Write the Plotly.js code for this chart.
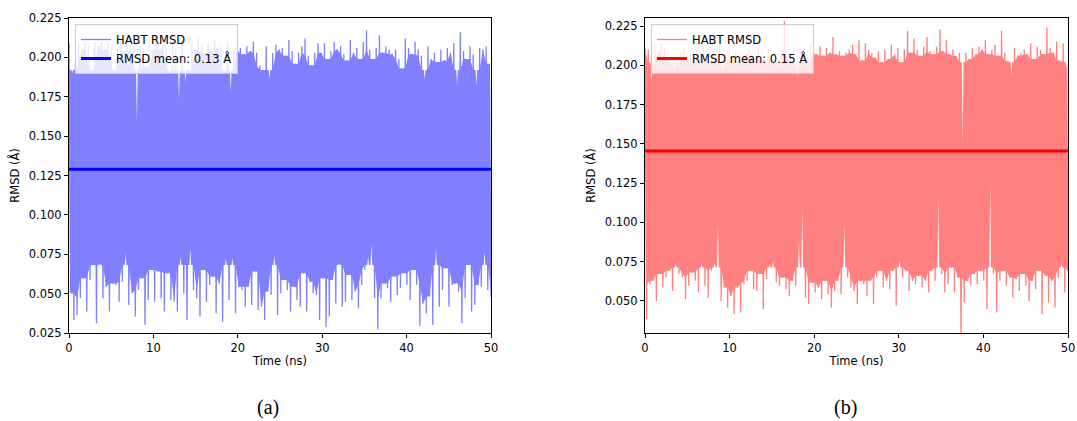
<!DOCTYPE html>
<html><head><meta charset="utf-8">
<script src="https://cdn.plot.ly/plotly-3.0.1.min.js"></script>
<style>html,body{margin:0;padding:0;background:#fff}#chart{width:1077px;height:421px}</style>
</head><body><div id="chart"></div>
<script>
// Time span of both trajectories (ns)
const timeSpanNs = [0, 50];

// Panel (a): upper and lower excursions of the HABT RMSD trace (Å), read left to right
const peaksA = [0.209,0.190,0.197,0.209,0.205,0.210,0.208,0.191,0.210,0.207,0.210,0.205,0.209,0.207,0.192,0.206,0.211,0.204,0.208,0.205,
0.207,0.158,0.209,0.206,0.194,0.209,0.205,0.213,0.205,0.208,0.211,0.190,0.207,0.205,0.173,0.210,0.184,0.192,0.209,0.205,
0.212,0.208,0.203,0.209,0.205,0.211,0.206,0.207,0.191,0.210,0.178,0.205,0.209,0.206,0.202,0.207,0.204,0.210,0.203,0.195,
0.192,0.207,0.186,0.203,0.208,0.205,0.206,0.201,0.211,0.204,0.196,0.203,0.207,0.212,0.201,0.195,0.203,0.209,0.203,0.209,
0.199,0.204,0.210,0.205,0.207,0.202,0.198,0.211,0.203,0.206,0.199,0.210,0.217,0.205,0.199,0.206,0.214,0.203,0.207,0.205,
0.202,0.205,0.199,0.193,0.212,0.206,0.202,0.210,0.205,0.201,0.186,0.207,0.199,0.203,0.197,0.205,0.198,0.206,0.203,0.209,
0.182,0.216,0.204,0.199,0.207,0.202,0.182,0.206,0.205,0.207,0.196];
const troughsA = [0.0502,0.0333,0.0364,0.0470,0.0597,0.0386,0.0587,0.0682,0.0312,0.0692,0.0470,
0.0544,0.0386,0.0565,0.0555,0.0449,0.0576,0.0756,0.0428,0.0502,0.0354,0.0523,
0.0597,0.0301,0.0460,0.0650,0.0449,0.0640,0.0470,0.0386,0.0629,0.0460,0.0449,
0.0386,0.0735,0.0502,0.0333,0.0788,0.0523,0.0470,0.0354,0.0650,0.0449,0.0555,
0.0608,0.0375,0.0565,0.0322,0.0724,0.0460,0.0724,0.0375,0.0544,0.0523,0.0417,
0.0544,0.0428,0.0640,0.0396,0.0417,0.0333,0.0513,0.0491,0.0745,0.0364,0.0502,
0.0587,0.0523,0.0386,0.0544,0.0460,0.0417,0.0629,0.0386,0.0576,0.0502,0.0491,
0.0333,0.0597,0.0286,0.0354,0.0587,0.0438,0.0692,0.0417,0.0449,0.0618,0.0460,
0.0513,0.0407,0.0555,0.0650,0.0735,0.0819,0.0470,0.0273,0.0470,0.0565,0.0534,
0.0449,0.0608,0.0491,0.0534,0.0629,0.0555,0.0460,0.0650,0.0555,0.0295,0.0438,
0.0375,0.0481,0.0301,0.0788,0.0417,0.0523,0.0661,0.0417,0.0555,0.0565,0.0513,
0.0312,0.0470,0.0682,0.0386,0.0428,0.0555,0.0544,0.0766,0.0523,0.0480];

// Panel (b)
const peaksB = [0.211,0.210,0.189,0.214,0.209,0.214,0.211,0.204,0.201,0.196,0.201,0.208,0.212,0.204,0.208,0.202,0.210,0.207,0.212,0.204,
0.202,0.208,0.206,0.213,0.196,0.208,0.212,0.204,0.209,0.203,0.207,0.207,0.210,0.208,0.202,0.212,0.207,0.204,0.210,0.206,
0.203,0.201,0.212,0.228,0.208,0.204,0.211,0.192,0.210,0.207,0.204,0.214,0.209,0.207,0.212,0.206,0.211,0.208,0.218,0.207,
0.209,0.206,0.208,0.210,0.213,0.207,0.216,0.203,0.214,0.210,0.208,0.205,0.209,0.202,0.210,0.204,0.213,0.207,0.211,0.202,
0.210,0.222,0.208,0.217,0.210,0.206,0.212,0.218,0.209,0.207,0.212,0.223,0.209,0.216,0.207,0.210,0.206,0.208,0.150,0.208,
0.204,0.211,0.207,0.212,0.210,0.216,0.207,0.210,0.213,0.206,0.222,0.208,0.203,0.194,0.211,0.206,0.208,0.210,0.207,0.214,
0.204,0.212,0.210,0.207,0.224,0.211,0.208,0.215,0.203,0.214,0.198];
const troughsB = [0.0383,0.0607,0.0628,0.0500,0.0671,0.0585,0.0649,0.0692,0.0564,0.0734,0.0671,0.0649,0.0511,0.0596,0.0681,0.0628,0.0553,0.0734,0.0596,0.0521,
0.0692,0.0745,0.099,0.0500,0.0585,0.0458,0.0532,0.0415,0.0585,0.0426,0.0607,0.0628,0.0692,0.0575,0.0564,0.0671,0.0447,0.0639,0.0734,0.0756,
0.0617,0.0596,0.0649,0.0575,0.0532,0.0628,0.0596,0.0884,0.109,0.0521,0.0479,0.0617,0.0553,0.0585,0.0511,0.0628,0.0543,0.0458,0.0564,0.0628,
0.0543,0.100,0.0649,0.0585,0.0564,0.0479,0.0628,0.0607,0.0532,0.0628,0.0479,0.0649,0.0692,0.0585,0.0628,0.0575,0.0692,0.0468,0.0756,0.0649,
0.0692,0.0564,0.0628,0.0607,0.0660,0.0585,0.0628,0.0553,0.0692,0.0628,0.116,0.0671,0.0553,0.0607,0.0713,0.0553,0.0649,0.0290,0.0490,0.0628,
0.0596,0.0671,0.0607,0.0692,0.0628,0.0447,0.125,0.0671,0.0426,0.0628,0.0692,0.0596,0.0649,0.0521,0.0639,0.0564,0.0671,0.0596,0.0500,0.0628,
0.0575,0.0692,0.0415,0.0660,0.0490,0.0628,0.0458,0.0649,0.0734,0.0553,0.0690];

const meanA = 0.129;
const meanB = 0.1455;
const seriesName = 'HABT RMSD';
const meanLabelA = 'RMSD mean: 0.13 Å';
const meanLabelB = 'RMSD mean: 0.15 Å';
const panelLabels = ['(a)', '(b)'];
const xTicks = [0, 10, 20, 30, 40, 50];
const yTicksA = [0.025, 0.050, 0.075, 0.100, 0.125, 0.150, 0.175, 0.200, 0.225];
const yTicksB = [0.050, 0.075, 0.100, 0.125, 0.150, 0.175, 0.200, 0.225];

function quantile(arr, q) {
  const s = arr.slice().sort((a, b) => a - b);
  return s[Math.floor(q * (s.length - 1))];
}

// Peaks and troughs alternate along the trajectory
function series(peaks, troughs) {
  const n = peaks.length + troughs.length;
  const span = timeSpanNs[1] - timeSpanNs[0];
  const tOf = k => timeSpanNs[0] + k * span / (n - 1);
  const half = 0.5 * span / (n - 1);
  const x = [], y = [];
  for (let i = 0; i < peaks.length; i++) {
    x.push(tOf(2 * i)); y.push(peaks[i]);
    if (i < troughs.length) { x.push(tOf(2 * i + 1)); y.push(troughs[i]); }
  }
  // solid core of the densely oscillating trace (what the overlapping swings cover);
  // isolated deep excursions stay thin
  const nb = (a, i) => [a[Math.max(0, i - 1)], a[i], a[Math.min(a.length - 1, i + 1)]];
  const floor = quantile(peaks, 0.10), ceil = quantile(troughs, 0.90);
  const bx = [], by = [];
  for (let i = 0; i < peaks.length; i++) {
    const t = tOf(2 * i), b = Math.max(Math.min(...nb(peaks, i)), floor);
    if (peaks[i] < floor) { bx.push(t - half, t, t + half); by.push(b, peaks[i], b); }
    else { bx.push(t); by.push(b); }
  }
  for (let i = troughs.length - 1; i >= 0; i--) {
    const t = tOf(2 * i + 1), b = Math.min(Math.max(...nb(troughs, i)), ceil);
    if (troughs[i] > ceil) { bx.push(t + half, t, t - half); by.push(b, troughs[i], b); }
    else { bx.push(t); by.push(b); }
  }
  return {x, y, bx, by};
}

const A = series(peaksA, troughsA);
const B = series(peaksB, troughsB);
const FONT = 'DejaVu Sans, Verdana, sans-serif';
const FS = 11.5;

function panel(S, col, meanV, meanCol, meanLabel, xa, ya, lg) {
  return [
    {x: S.bx, y: S.by, type: 'scatter', mode: 'lines', fill: 'toself', fillcolor: col,
     line: {width: 0, color: col}, xaxis: xa, yaxis: ya, showlegend: false, hoverinfo: 'skip'},
    {x: S.x, y: S.y, type: 'scatter', mode: 'lines', name: seriesName, xaxis: xa, yaxis: ya,
     line: {color: col, width: 1.3, simplify: false}, legend: lg},
    {x: timeSpanNs, y: [meanV, meanV], type: 'scatter', mode: 'lines', name: meanLabel, xaxis: xa, yaxis: ya,
     line: {color: meanCol, width: 3}, legend: lg}
  ];
}

const data = [].concat(
  panel(A, '#8080ff', meanA, '#0000ff', meanLabelA, 'x', 'y', 'legend'),
  panel(B, '#ff8080', meanB, '#ff0000', meanLabelB, 'x2', 'y2', 'legend2')
);

const axBase = {
  showline: true, mirror: true, linecolor: '#000', linewidth: 1,
  ticks: 'outside', ticklen: 4, tickwidth: 1, tickcolor: '#000',
  showgrid: false, zeroline: false,
  tickfont: {family: FONT, size: FS, color: '#000'}
};

const legendBase = {
  bgcolor: 'rgba(255,255,255,0.8)', bordercolor: '#cccccc', borderwidth: 1,
  font: {family: FONT, size: FS, color: '#000'},
  xanchor: 'left', yanchor: 'top', tracegroupgap: 0, itemwidth: 30
};

const layout = {
  width: 1077, height: 421,
  margin: {l: 0, r: 0, t: 18, b: 88},
  paper_bgcolor: '#fff', plot_bgcolor: '#fff',
  showlegend: true,
  xaxis: Object.assign({}, axBase, {domain: [69/1077, 491/1077], range: [0, 50], tickvals: xTicks,
    title: {text: 'Time (ns)', font: {family: FONT, size: FS, color: '#000'}, standoff: 3}}),
  yaxis: Object.assign({}, axBase, {range: [0.025, 0.225], tickvals: yTicksA, tickformat: '.3f',
    title: {text: 'RMSD (Å)', font: {family: FONT, size: FS, color: '#000'}, standoff: 6}}),
  xaxis2: Object.assign({}, axBase, {domain: [645/1077, 1068/1077], range: [0, 50], tickvals: xTicks, anchor: 'y2',
    title: {text: 'Time (ns)', font: {family: FONT, size: FS, color: '#000'}, standoff: 3}}),
  yaxis2: Object.assign({}, axBase, {range: [0.0296, 0.2301], tickvals: yTicksB, tickformat: '.3f', anchor: 'x2',
    title: {text: 'RMSD (Å)', font: {family: FONT, size: FS, color: '#000'}, standoff: 6}}),
  legend: Object.assign({}, legendBase, {x: 75/1077, y: (333-24)/315}),
  legend2: Object.assign({}, legendBase, {x: 651/1077, y: (333-24)/315}),
  annotations: [
    {text: panelLabels[0], xref: 'paper', yref: 'paper', x: 268/1077, y: (333-407)/315,
     xanchor: 'center', yanchor: 'middle', showarrow: false,
     font: {family: 'Liberation Serif, Times New Roman, serif', size: 20, color: '#000'}},
    {text: panelLabels[1], xref: 'paper', yref: 'paper', x: 845/1077, y: (333-407)/315,
     xanchor: 'center', yanchor: 'middle', showarrow: false,
     font: {family: 'Liberation Serif, Times New Roman, serif', size: 20, color: '#000'}}
  ]
};

Plotly.newPlot('chart', data, layout, {displayModeBar: false, staticPlot: true});
</script>
</body></html>
